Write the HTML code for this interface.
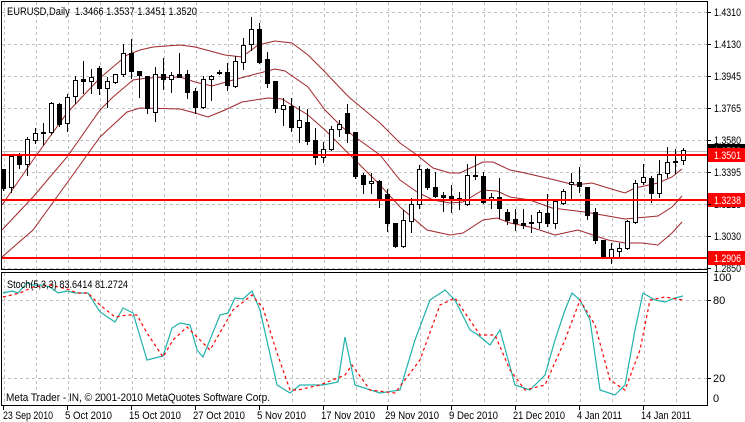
<!DOCTYPE html>
<html><head><meta charset="utf-8"><style>
html,body{margin:0;padding:0;background:#fff;}
svg{display:block;font-family:"Liberation Sans",sans-serif;font-size:11px;}
</style></head><body>
<svg id="s" width="745" height="422" viewBox="0 0 745 422" xmlns="http://www.w3.org/2000/svg" shape-rendering="crispEdges">
<rect width="745" height="422" fill="#fff"/>
<g id="grid" stroke="#c0c0c0" stroke-dasharray="3,3" stroke-width="1"></g>
<line x1="1" y1="1.5" x2="708" y2="1.5" stroke="#000"/>
<line x1="1.5" y1="1" x2="1.5" y2="270" stroke="#000"/>
<line x1="707.5" y1="1" x2="707.5" y2="406" stroke="#000"/>
<line x1="1" y1="269.5" x2="708" y2="269.5" stroke="#000"/>
<line x1="1" y1="272.5" x2="708" y2="272.5" stroke="#000"/>
<line x1="1.5" y1="272" x2="1.5" y2="406" stroke="#000"/>
<line x1="1" y1="405.5" x2="708" y2="405.5" stroke="#000"/>
<line x1="2" y1="151.5" x2="707" y2="151.5" stroke="#c0c0c0"/>
<g id="env" fill="none" stroke="#a0262a" stroke-width="1" shape-rendering="auto"></g>
<g id="candles"></g>
<line x1="2" y1="155" x2="707" y2="155" stroke="#ff0000" stroke-width="2"/>
<line x1="2" y1="200" x2="707" y2="200" stroke="#ff0000" stroke-width="2"/>
<line x1="2" y1="258" x2="707" y2="258" stroke="#ff0000" stroke-width="2"/>
<g id="stoch" fill="none" shape-rendering="auto"></g>
<text x="7" y="15" fill="#000" xml:space="preserve" textLength="190" lengthAdjust="spacingAndGlyphs">EURUSD,Daily  1.3466 1.3537 1.3451 1.3520</text>
<text x="7" y="288" fill="#000" textLength="121" lengthAdjust="spacingAndGlyphs">Stoch(5,3,3) 83.6414 81.2724</text>
<text x="6" y="401" fill="#000" textLength="264" lengthAdjust="spacingAndGlyphs">Meta Trader - IN, © 2001-2010 MetaQuotes Software Corp.</text>
<g fill="#000" font-size="11">
<text x="714" y="16" textLength="27" lengthAdjust="spacingAndGlyphs">1.4310</text>
<text x="714" y="48" textLength="27" lengthAdjust="spacingAndGlyphs">1.4130</text>
<text x="714" y="80" textLength="27" lengthAdjust="spacingAndGlyphs">1.3945</text>
<text x="714" y="112" textLength="27" lengthAdjust="spacingAndGlyphs">1.3765</text>
<text x="714" y="144" textLength="27" lengthAdjust="spacingAndGlyphs">1.3580</text>
<text x="714" y="176" textLength="27" lengthAdjust="spacingAndGlyphs">1.3395</text>
<text x="714" y="208" textLength="27" lengthAdjust="spacingAndGlyphs">1.3213</text>
<text x="714" y="240" textLength="27" lengthAdjust="spacingAndGlyphs">1.3030</text>
<text x="714" y="272" textLength="27" lengthAdjust="spacingAndGlyphs">1.2850</text>
</g>
<rect x="708" y="144" width="37" height="14" fill="#000"/>
<text x="714" y="155" fill="#fff" textLength="27" lengthAdjust="spacingAndGlyphs">1.3520</text>
<rect x="708" y="148" width="37" height="14" fill="#ff0000"/>
<text x="714" y="159" fill="#fff" textLength="27" lengthAdjust="spacingAndGlyphs">1.3501</text>
<rect x="708" y="193" width="37" height="14" fill="#ff0000"/>
<text x="714" y="204" fill="#fff" textLength="27" lengthAdjust="spacingAndGlyphs">1.3238</text>
<rect x="708" y="251" width="37" height="14" fill="#ff0000"/>
<text x="714" y="262" fill="#fff" textLength="27" lengthAdjust="spacingAndGlyphs">1.2906</text>
<g fill="#000">
<text x="713" y="281">100</text>
<text x="713" y="304">80</text>
<text x="713" y="382">20</text>
<text x="713" y="402">0</text>
</g>
<g id="ticks" stroke="#000"></g>
<g fill="#000">
<text x="3" y="419" textLength="50" lengthAdjust="spacingAndGlyphs">23 Sep 2010</text>
<text x="65" y="419" textLength="47" lengthAdjust="spacingAndGlyphs">5 Oct 2010</text>
<text x="129" y="419" textLength="52" lengthAdjust="spacingAndGlyphs">15 Oct 2010</text>
<text x="193" y="419" textLength="52" lengthAdjust="spacingAndGlyphs">27 Oct 2010</text>
<text x="257" y="419" textLength="49" lengthAdjust="spacingAndGlyphs">5 Nov 2010</text>
<text x="321" y="419" textLength="54" lengthAdjust="spacingAndGlyphs">17 Nov 2010</text>
<text x="385" y="419" textLength="54" lengthAdjust="spacingAndGlyphs">29 Nov 2010</text>
<text x="449" y="419" textLength="49" lengthAdjust="spacingAndGlyphs">9 Dec 2010</text>
<text x="513" y="419" textLength="52" lengthAdjust="spacingAndGlyphs">21 Dec 2010</text>
<text x="577" y="419" textLength="45" lengthAdjust="spacingAndGlyphs">4 Jan 2011</text>
<text x="641" y="419" textLength="50" lengthAdjust="spacingAndGlyphs">14 Jan 2011</text>
</g>
</svg>
<script>
(function(){
var NS="http://www.w3.org/2000/svg";
function el(p,n,a){var e=document.createElementNS(NS,n);for(var k in a)e.setAttribute(k,a[k]);p.appendChild(e);return e;}
var g=document.getElementById('grid');
for(var x=4;x<707;x+=32){el(g,'line',{x1:x+.5,y1:2,x2:x+.5,y2:269});el(g,'line',{x1:x+.5,y1:273,x2:x+.5,y2:405});}
[12,44,76,108,140,172,204,236,268].forEach(function(y){el(g,'line',{x1:2,y1:y+.5,x2:707,y2:y+.5});});
[300,378].forEach(function(y){el(g,'line',{x1:2,y1:y+.5,x2:707,y2:y+.5});});
var tk=document.getElementById('ticks');
for(var x=3;x<707;x+=64){el(tk,'line',{x1:x+.5,y1:406,x2:x+.5,y2:410});}
[12,44,76,108,140,172,204,236,268,300,378].forEach(function(y){el(tk,'line',{x1:708,y1:y+.5,x2:711,y2:y+.5});});
var env=document.getElementById('env');
var up=[[2,205],[33,160],[67,113],[100,78],[127,55],[140,50],[153,47],[180,45],[195,47],[225,55],[242,57],[258,45],[275,41],[292,43],[308,55],[325,72],[342,90],[350,98],[380,123],[400,143],[417,155],[433,168],[450,173],[460,173],[483,162],[493,162],[510,170],[525,173],[555,180],[575,185],[592,183],[608,188],[625,193],[635,188],[658,183],[672,177],[682,169]];
var md=[[2,230],[33,197],[67,157],[100,110],[113,97],[133,80],[147,78],[180,77],[195,82],[212,86],[233,80],[252,75],[275,69],[285,71],[308,87],[325,110],[342,127],[355,137],[380,155],[400,180],[417,192],[433,200],[450,203],[463,202],[483,190],[497,191],[510,197],[530,200],[552,208],[585,212],[608,216],[625,219],[658,216],[672,207],[682,196]];
var lo=[[2,257],[33,230],[67,183],[100,137],[127,112],[140,108],[180,109],[195,113],[208,117],[225,110],[242,102],[268,98],[282,99],[308,115],[325,130],[342,147],[355,160],[380,185],[400,207],[427,230],[450,235],[463,233],[483,220],[497,218],[510,223],[530,227],[555,235],[578,230],[608,240],[625,243],[642,243],[658,245],[672,233],[682,222]];
[up,md,lo].forEach(function(a){el(env,'polyline',{points:a.map(function(p){return p.join(',')}).join(' ')});});
var C=[[169,169,188,190,0],[155,156,187,192,1],[153,156,164,168,0],[137,139,164,175,1],[128,133,140,143,1],[123,132,133,144,0],[102,103,132,134,1],[103,104,124,126,0],[94,97,123,131,1],[76,80,96,103,1],[61,79,81,93,0],[69,77,81,93,1],[66,68,88,94,0],[77,81,88,107,1],[74,74,82,83,1],[44,53,74,76,1],[39,53,71,78,0],[71,71,75,97,0],[76,76,108,113,0],[67,74,112,121,1],[58,74,79,89,0],[72,75,79,92,1],[53,74,77,77,0],[70,74,92,98,0],[88,91,107,113,0],[76,79,107,108,1],[75,76,79,100,1],[70,72,73,74,0],[63,72,85,90,0],[56,61,86,87,1],[38,45,62,69,1],[17,29,44,50,1],[23,29,62,63,0],[52,59,83,87,0],[81,81,108,112,0],[98,105,109,125,1],[98,106,127,131,0],[106,120,127,142,1],[109,122,141,144,0],[128,140,157,164,0],[142,149,157,162,1],[126,129,149,150,1],[120,124,129,136,1],[104,113,133,142,0],[132,132,176,178,0],[173,175,184,193,0],[173,181,183,193,1],[180,181,200,207,0],[189,194,223,231,0],[223,223,246,247,0],[210,220,246,247,1],[198,204,221,232,1],[165,169,204,208,1],[168,169,187,189,0],[172,187,196,197,0],[192,195,197,211,0],[185,196,199,212,0],[192,198,200,209,0],[164,175,204,205,1],[155,175,176,179,0],[172,176,202,203,0],[193,197,200,208,1],[178,197,208,218,0],[209,212,220,224,0],[209,219,223,230,0],[209,223,225,228,0],[215,222,223,232,0],[210,212,222,228,1],[194,213,223,226,0],[199,201,223,228,1],[189,191,203,204,1],[173,182,184,198,1],[167,182,186,192,0],[187,187,215,219,0],[208,212,240,243,0],[240,240,257,258,0],[243,249,257,263,1],[243,248,251,258,1],[220,221,248,249,1],[180,183,222,223,1],[164,177,182,184,1],[176,178,193,202,0],[160,174,193,197,1],[147,162,173,177,1],[149,161,162,173,0],[148,150,160,164,1]];
var cg=document.getElementById('candles');
C.forEach(function(c,i){var x=3+8*i;
el(cg,'line',{x1:x+.5,y1:c[0],x2:x+.5,y2:c[3]+1,stroke:'#000'});
var h=Math.max(c[2]-c[1],0);
if(h<1){el(cg,'line',{x1:x-2,y1:c[1]+.5,x2:x+3,y2:c[1]+.5,stroke:'#000'});}
else el(cg,'rect',{x:x-1.5,y:c[1]+.5,width:4,height:h,fill:c[4]?'#fff':'#000',stroke:'#000'});
});
var st=document.getElementById('stoch');
var cy=[[3,293],[12,291],[18,293],[27,283],[33,285],[43,285],[50,287],[58,293],[67,291],[75,293],[88,293],[100,312],[115,322],[123,308],[133,313],[147,360],[163,356],[172,328],[180,323],[190,325],[197,350],[203,357],[220,315],[228,313],[235,298],[243,299],[252,291],[260,310],[277,385],[290,393],[300,385],[310,385],[323,385],[338,382],[345,337],[355,385],[380,393],[400,390],[415,340],[430,300],[445,290],[455,300],[470,330],[478,335],[490,345],[500,330],[515,385],[530,390],[545,375],[555,340],[565,310],[572,293],[580,300],[590,320],[600,390],[615,395],[625,385],[635,330],[643,293],[655,300],[665,302],[675,298],[683,296]];
var rd=[[3,297],[20,293],[33,287],[50,285],[67,289],[77,293],[88,293],[100,305],[115,317],[127,315],[137,315],[147,333],[163,357],[173,340],[187,327],[200,340],[210,350],[233,310],[252,295],[263,308],[277,353],[290,390],[298,390],[320,385],[345,375],[352,365],[370,390],[395,393],[420,360],[440,305],[455,298],[480,335],[495,335],[510,370],[525,390],[545,385],[565,340],[580,300],[595,325],[610,380],[625,390],[640,350],[650,300],[665,297],[683,300]];
el(st,'polyline',{points:cy.map(function(p){return p.join(',')}).join(' '),stroke:'#20b2aa','stroke-width':1.2});
el(st,'polyline',{points:rd.map(function(p){return p.join(',')}).join(' '),stroke:'#ff0000','stroke-width':1.2,'stroke-dasharray':'3,3'});
})();
</script>
</body></html>
